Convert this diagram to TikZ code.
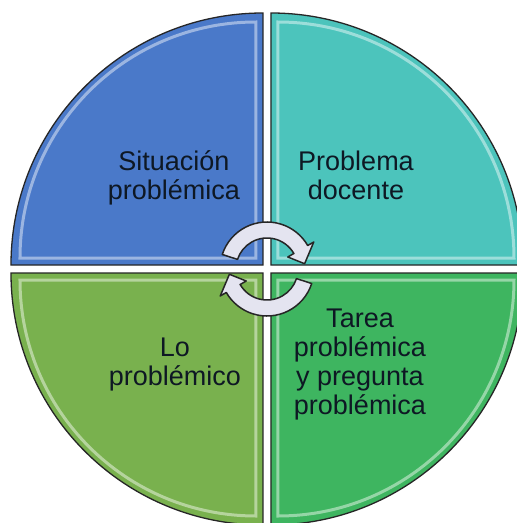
\documentclass[tikz,border=0pt]{standalone}
\usepackage{fontspec}
\setmainfont{Liberation Sans}
\usetikzlibrary{calc}

\definecolor{quadblue}{RGB}{74,121,201}
\definecolor{quadteal}{RGB}{76,196,188}
\definecolor{quadolive}{RGB}{121,177,78}
\definecolor{quadgreen}{RGB}{62,181,96}
\definecolor{arrowgrey}{RGB}{228,228,240}
\definecolor{textdark}{RGB}{14,24,36}

\begin{document}
\begin{tikzpicture}
    [x=1pt,y=1pt,
     quad/.style={draw=black!85,line width=1.3pt},
     bevel/.style={draw=white,line width=3pt,opacity=0.45},
     label/.style={align=center,font=\fontsize{27}{29}\selectfont,text=textdark},
     cyclearrow/.style={fill=arrowgrey,draw=black!85,line width=1.5pt,line join=round}]

    \useasboundingbox (-267,-254) rectangle (250,269);
    \fill[white] (-267,-254) rectangle (250,269);

    % four quarters
    \draw[quad,fill=quadblue] (-4,4) -- (-4,256) arc (90:180:252) -- cycle;
    \draw[quad,fill=quadteal] (4,4) -- (256,4) arc (0:90:252) -- cycle;
    \draw[quad,fill=quadolive] (-4,-4) -- (-256,-4) arc (180:270:252) -- cycle;
    \draw[quad,fill=quadgreen] (4,-4) -- (4,-256) arc (270:360:252) -- cycle;

    % bevel highlights
    \draw[bevel] (-11,11) -- (-11,247) arc (90:180:236) -- cycle;
    \draw[bevel] (11,11) -- (247,11) arc (0:90:236) -- cycle;
    \draw[bevel] (-11,-11) -- (-247,-11) arc (180:270:236) -- cycle;
    \draw[bevel] (11,-11) -- (11,-247) arc (270:360:236) -- cycle;

    \node[label] (situacion) at (-93,91) {Situación\\problémica};
    \node[label] (problema) at (89,94) {Problema\\docente};
    \node[label] (problemico) at (-92,-96) {Lo\\problémico};
    \node[label] (tarea) at (93,-96) {Tarea\\problémica\\y pregunta\\problémica};

    % cycle arrows
    \draw[cyclearrow] (162:47) arc (162:30:47) -- (30:54) -- (8:38) -- (30:24) -- (30:31) arc (30:162:31) -- cycle;
    \draw[cyclearrow] (-18:47) arc (-18:-150:47) -- (-150:54) -- (-172:38) -- (-150:24) -- (-150:31) arc (-150:-18:31) -- cycle;

\end{tikzpicture}
\end{document}
